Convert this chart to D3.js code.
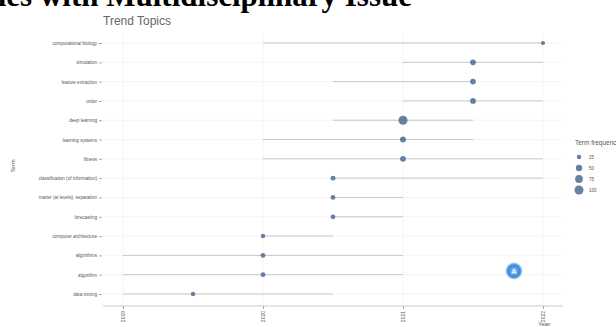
<!DOCTYPE html>
<html>
<head>
<meta charset="utf-8">
<script src="https://cdn.jsdelivr.net/npm/d3@7"></script>
<style>
  body { margin: 0; background: #fff; }
  svg { display: block; font-family: "Liberation Sans", Arial, sans-serif; }
</style>
</head>
<body>
<div class="chart_wrapper"></div>
<script>
// terms, top to bottom
const terms = [
  "computational biology", "simulation", "feature extraction", "order",
  "deep learning", "learning systems", "fitness",
  "classification (of information)", "matter (at levels), separation", "forecasting",
  "computer architecture", "algorithms", "algorithm", "data mining"
]
// first quartile, median and third quartile year of each term
const yearQ1 = [2020, 2021, 2020.5, 2021, 2020.5, 2020, 2020, 2020.5, 2020.5, 2020.5, 2020, 2019, 2019, 2019]
const yearMedian = [2022, 2021.5, 2021.5, 2021.5, 2021, 2021, 2021, 2020.5, 2020.5, 2020.5, 2020, 2020, 2020, 2019.5]
const yearQ3 = [2022, 2022, 2021.5, 2022, 2021.5, 2021.5, 2022, 2022, 2021, 2021, 2020.5, 2021, 2021, 2020.5]
const termFreq = [22, 40, 40, 40, 100, 45, 42, 30, 28, 28, 25, 28, 28, 24]
const yearTicks = [2019, 2020, 2021, 2022]
const legendValues = [25, 50, 75, 100]

const width = 616
const height = 327

const svg = d3.select('.chart_wrapper')
  .append('svg')
  .attr('width', width)
  .attr('height', height)

// cropped page heading above the chart (cut by the top and left edge, as in the screenshot)
svg.append('text')
  .attr('x', 412)
  .attr('y', 6)
  .attr('text-anchor', 'end')
  .attr('font-family', '"Liberation Serif", "Times New Roman", serif')
  .attr('font-weight', 'bold')
  .attr('font-size', 31)
  .attr('fill', '#000')
  .text('Studies with Multidisciplinary Issue')

svg.append('text')
  .attr('x', 103)
  .attr('y', 25)
  .attr('font-size', 12)
  .attr('fill', '#666')
  .text('Trend Topics')

const x = d3.scaleLinear().domain([2019, 2022]).range([123, 543])
const y = d3.scalePoint().domain(terms).range([43, 294])
const r = d3.scaleSqrt().domain([0, 100]).range([0, 4.5])

const rows = terms.map((t, i) => ({
  term: t, q1: yearQ1[i], med: yearMedian[i], q3: yearQ3[i], freq: termFreq[i]
}))

// faint grid
const grid = svg.append('g').attr('stroke', '#f2f2f2').attr('stroke-width', 0.8)
grid.selectAll('line.h')
  .data(terms)
  .join('line')
  .attr('class', 'h')
  .attr('x1', 103).attr('x2', 563)
  .attr('y1', d => y(d)).attr('y2', d => y(d))
grid.selectAll('line.v')
  .data(yearTicks)
  .join('line')
  .attr('class', 'v')
  .attr('x1', d => x(d)).attr('x2', d => x(d))
  .attr('y1', 33).attr('y2', 304)

// y axis
const yAxis = svg.append('g')
  .attr('transform', 'translate(102,0)')
  .call(d3.axisLeft(y).tickSize(3).tickPadding(2))
yAxis.select('.domain').remove()
yAxis.selectAll('.tick line').attr('stroke', '#aaa')
yAxis.selectAll('.tick text')
  .attr('font-size', 4.6)
  .attr('fill', '#555')

// x axis
const xAxis = svg.append('g')
  .attr('transform', 'translate(0,306)')
  .call(d3.axisBottom(x).tickValues(yearTicks).tickFormat(d3.format('d')).tickSize(3).tickSizeOuter(0))
xAxis.select('.domain').attr('d', 'M103,0H563').attr('stroke', '#ccc').attr('stroke-width', 1.2)
xAxis.selectAll('.tick line').attr('stroke', '#aaa')
xAxis.selectAll('.tick text')
  .attr('font-size', 5)
  .attr('fill', '#555')
  .attr('transform', 'rotate(-90)')
  .attr('text-anchor', 'end')
  .attr('dy', '0.35em')
  .attr('x', -5)
  .attr('y', 0)

svg.append('text')
  .attr('transform', 'translate(15,166) rotate(-90)')
  .attr('text-anchor', 'middle')
  .attr('font-size', 6)
  .attr('fill', '#555')
  .text('Term')

svg.append('text')
  .attr('x', 538)
  .attr('y', 326)
  .attr('font-size', 6)
  .attr('fill', '#555')
  .text('Year')

// segments q1 -> q3
svg.append('g')
  .attr('stroke', '#c8c8c8')
  .attr('stroke-width', 1)
  .selectAll('line')
  .data(rows)
  .join('line')
  .attr('x1', d => x(d.q1))
  .attr('x2', d => x(d.q3))
  .attr('y1', d => y(d.term))
  .attr('y2', d => y(d.term))

// median points
svg.append('g')
  .selectAll('circle')
  .data(rows)
  .join('circle')
  .attr('cx', d => x(d.med))
  .attr('cy', d => y(d.term))
  .attr('r', d => r(d.freq))
  .attr('fill', '#4d6b93')
  .attr('fill-opacity', 0.85)

// legend
const legend = svg.append('g').attr('transform', 'translate(575,0)')
legend.append('text')
  .attr('x', 0)
  .attr('y', 145)
  .attr('font-size', 6.5)
  .attr('fill', '#555')
  .text('Term frequency')
legend.selectAll('circle')
  .data(legendValues)
  .join('circle')
  .attr('cx', 4)
  .attr('cy', (d, i) => 157 + i * 11)
  .attr('r', d => r(d))
  .attr('fill', '#4d6b93')
  .attr('fill-opacity', 0.85)
legend.selectAll('text.lab')
  .data(legendValues)
  .join('text')
  .attr('class', 'lab')
  .attr('x', 14)
  .attr('y', (d, i) => 157 + i * 11)
  .attr('dy', '0.35em')
  .attr('font-size', 4.5)
  .attr('fill', '#555')
  .text(d => d)

// small blue badge overlaying the plot
const grad = svg.append('defs').append('radialGradient').attr('id', 'badge')
grad.append('stop').attr('offset', '0%').attr('stop-color', '#8cc4f5')
grad.append('stop').attr('offset', '70%').attr('stop-color', '#3a86d6')
grad.append('stop').attr('offset', '100%').attr('stop-color', '#bfe6fb')
svg.append('circle')
  .attr('cx', 514)
  .attr('cy', 271)
  .attr('r', 8.5)
  .attr('fill', 'url(#badge)')
svg.append('text')
  .attr('x', 514)
  .attr('y', 274)
  .attr('text-anchor', 'middle')
  .attr('font-size', 8)
  .attr('font-weight', 'bold')
  .attr('fill', '#e8f3ff')
  .text('A')
</script>
</body>
</html>
